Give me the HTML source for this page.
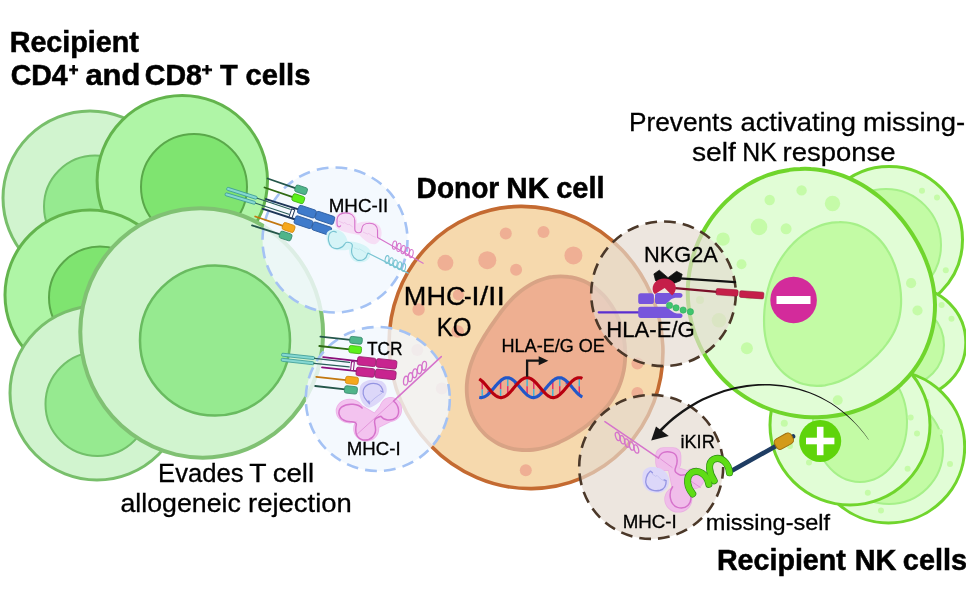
<!DOCTYPE html>
<html><head><meta charset="utf-8"><title>Donor NK cell</title>
<style>
html,body{margin:0;padding:0;background:#fff;}
svg{display:block;will-change:transform;font-family:"Liberation Sans",sans-serif;fill:#000}
</style></head><body>
<svg width="966" height="606" viewBox="0 0 966 606">
<rect width="966" height="606" fill="#fff"/>
<g><ellipse cx="90" cy="198" rx="87" ry="87" fill="#d1f4cf" stroke="#78bf6b" stroke-width="3" transform="rotate(0 90 198)"/><circle cx="95" cy="206.5" r="51" fill="#96ea90" stroke="#72c06a" stroke-width="2"/></g>
<g><ellipse cx="182.3" cy="180.6" rx="85.2" ry="85.2" fill="#aff5a6" stroke="#63b44d" stroke-width="3" transform="rotate(0 182.3 180.6)"/><circle cx="194" cy="187" r="53" fill="#7fe470" stroke="#5aa84a" stroke-width="2"/></g>
<g><ellipse cx="90" cy="295" rx="85" ry="85" fill="#aff5a6" stroke="#63b44d" stroke-width="3" transform="rotate(0 90 295)"/><circle cx="100" cy="297.5" r="51" fill="#7fe470" stroke="#5aa84a" stroke-width="2"/></g>
<g><ellipse cx="97" cy="393" rx="87" ry="87" fill="#d1f4cf" stroke="#78bf6b" stroke-width="3" transform="rotate(0 97 393)"/><circle cx="97.5" cy="404" r="52" fill="#96ea90" stroke="#72c06a" stroke-width="2"/></g>
<g><ellipse cx="201.7" cy="332.9" rx="124.8" ry="121.3" fill="#d1f4cf" stroke="#80c173" stroke-width="4" transform="rotate(80.8 201.7 332.9)"/><circle cx="215" cy="340.5" r="75" fill="#96ea90" stroke="#69bb60" stroke-width="2.5"/></g>
<g><ellipse cx="889.2" cy="239.7" rx="73.3" ry="73.3" transform="rotate(0 889.2 239.7)" fill="#e1fdd6" stroke="#70d52c" stroke-width="3"/>
<ellipse cx="886" cy="245" rx="55" ry="56" transform="rotate(0 886 245)" fill="#c3fba5" stroke="#a6f089" stroke-width="2"/>
<circle cx="922" cy="190.7" r="3" fill="#c5fba8"/>
<circle cx="937" cy="197.5" r="3" fill="#c5fba8"/>
<circle cx="945.8" cy="270.3" r="3" fill="#c5fba8"/>
</g>
<g><ellipse cx="911" cy="342.4" rx="54.8" ry="54.8" transform="rotate(0 911 342.4)" fill="#e1fdd6" stroke="#70d52c" stroke-width="3"/>
<ellipse cx="906" cy="345" rx="38" ry="40" transform="rotate(0 906 345)" fill="#c3fba5" stroke="#a6f089" stroke-width="2"/>
<circle cx="941.6" cy="305" r="3" fill="#c5fba8"/>
<circle cx="951.5" cy="318.8" r="3" fill="#c5fba8"/>
</g>
<g><ellipse cx="888.5" cy="446.8" rx="76.2" ry="76.2" transform="rotate(0 888.5 446.8)" fill="#e1fdd6" stroke="#70d52c" stroke-width="3"/>
<ellipse cx="889" cy="450" rx="54" ry="54" transform="rotate(0 889 450)" fill="#c3fba5" stroke="#a6f089" stroke-width="2"/>
<circle cx="881" cy="510.5" r="3" fill="#c5fba8"/>
<circle cx="950" cy="463.9" r="3" fill="#c5fba8"/>
<circle cx="926.6" cy="401.7" r="3" fill="#c5fba8"/>
<circle cx="940" cy="432" r="3" fill="#c5fba8"/>
</g>
<g><ellipse cx="850" cy="425" rx="80" ry="80" transform="rotate(0 850 425)" fill="#e1fdd6" stroke="#70d52c" stroke-width="3"/>
<ellipse cx="860" cy="422" rx="47" ry="60" transform="rotate(0 860 422)" fill="#c3fba5" stroke="#a6f089" stroke-width="2"/>
<circle cx="784.3" cy="423.3" r="3.5" fill="#c5fba8"/>
<circle cx="790" cy="446" r="3" fill="#c5fba8"/>
<circle cx="809" cy="462.4" r="3" fill="#c5fba8"/>
<circle cx="867.8" cy="492.7" r="3" fill="#c5fba8"/>
<circle cx="907.6" cy="468.8" r="3" fill="#c5fba8"/>
<circle cx="917" cy="433.5" r="3" fill="#c5fba8"/>
<circle cx="910.7" cy="417.6" r="3" fill="#c5fba8"/>
</g>
<path d="M934.3,294.0 C934.7,297.6 934.9,301.2 935.0,304.8 C935.0,308.5 934.9,312.1 934.5,315.8 C934.2,319.4 933.7,323.1 933.0,326.7 C932.3,330.3 931.4,333.9 930.3,337.4 C929.3,341.0 928.0,344.5 926.5,347.9 C925.1,351.3 923.5,354.6 921.7,357.9 C919.8,361.1 917.9,364.3 915.7,367.3 C913.6,370.4 911.3,373.3 908.9,376.1 C906.4,378.9 903.8,381.6 901.2,384.2 C898.5,386.7 895.6,389.1 892.7,391.4 C889.8,393.6 886.7,395.8 883.6,397.7 C880.5,399.7 877.3,401.5 874.1,403.2 C870.8,404.9 867.4,406.4 864.1,407.8 C860.7,409.2 857.2,410.4 853.8,411.5 C850.3,412.6 846.8,413.5 843.2,414.3 C839.7,415.0 836.1,415.7 832.5,416.1 C829.0,416.6 825.4,417.0 821.8,417.1 C818.2,417.3 814.6,417.4 811.0,417.3 C807.4,417.1 803.8,416.9 800.3,416.5 C796.7,416.1 793.2,415.6 789.7,414.9 C786.2,414.2 782.7,413.3 779.3,412.4 C775.9,411.4 772.5,410.3 769.1,409.0 C765.8,407.8 762.5,406.4 759.3,404.9 C756.1,403.3 752.9,401.7 749.9,399.9 C746.8,398.1 743.8,396.2 740.9,394.1 C738.0,392.1 735.1,389.9 732.4,387.7 C729.7,385.4 727.0,383.0 724.5,380.5 C722.0,378.0 719.6,375.3 717.3,372.6 C715.0,369.9 712.8,367.1 710.7,364.2 C708.7,361.3 706.7,358.3 704.9,355.2 C703.1,352.2 701.4,349.0 699.9,345.8 C698.4,342.6 697.0,339.3 695.7,336.0 C694.5,332.6 693.3,329.2 692.4,325.8 C691.4,322.3 690.6,318.9 689.9,315.3 C689.3,311.8 688.8,308.3 688.4,304.7 C688.0,301.2 687.8,297.6 687.8,294.0 C687.7,290.4 687.8,286.8 688.1,283.2 C688.4,279.7 688.8,276.1 689.3,272.5 C689.9,269.0 690.6,265.5 691.5,262.0 C692.3,258.5 693.4,255.0 694.5,251.6 C695.7,248.2 697.0,244.8 698.4,241.5 C699.9,238.2 701.5,234.9 703.2,231.8 C704.9,228.6 706.8,225.4 708.8,222.4 C710.8,219.4 712.9,216.4 715.2,213.6 C717.4,210.7 719.8,207.9 722.3,205.3 C724.8,202.6 727.4,200.1 730.2,197.7 C732.9,195.2 735.8,192.9 738.7,190.7 C741.7,188.6 744.7,186.5 747.9,184.6 C751.0,182.8 754.3,181.0 757.6,179.4 C760.9,177.9 764.3,176.4 767.8,175.2 C771.2,174.0 774.7,172.9 778.3,172.0 C781.9,171.1 785.5,170.4 789.1,169.9 C792.7,169.3 796.4,169.0 800.1,168.9 C803.7,168.7 807.4,168.7 811.0,169.0 C814.6,169.2 818.3,169.6 821.8,170.2 C825.4,170.8 829.0,171.5 832.4,172.5 C835.9,173.4 839.3,174.5 842.7,175.7 C846.0,177.0 849.3,178.4 852.5,179.9 C855.7,181.4 858.9,183.1 861.9,184.8 C864.9,186.6 867.9,188.5 870.7,190.5 C873.6,192.5 876.4,194.6 879.1,196.8 C881.7,199.0 884.3,201.3 886.8,203.6 C889.3,206.0 891.8,208.4 894.1,210.9 C896.4,213.4 898.7,216.0 900.9,218.6 C903.0,221.2 905.1,223.9 907.1,226.7 C909.1,229.5 911.0,232.3 912.9,235.2 C914.7,238.1 916.5,241.0 918.1,244.0 C919.8,247.1 921.3,250.2 922.8,253.3 C924.2,256.5 925.6,259.7 926.8,263.0 C928.1,266.2 929.2,269.6 930.2,273.0 C931.1,276.4 932.0,279.9 932.7,283.4 C933.4,286.9 933.9,290.4 934.3,294.0 Z" fill="#e1fdd6" stroke="#70d52c" stroke-width="4"/>
<path d="M901.0,305.0 C900.8,307.0 900.7,309.0 900.4,311.0 C900.1,313.0 899.8,314.9 899.4,316.9 C898.9,318.8 898.4,320.7 897.8,322.6 C897.2,324.5 896.5,326.4 895.8,328.2 C895.0,330.0 894.2,331.8 893.3,333.6 C892.4,335.3 891.4,337.0 890.3,338.7 C889.3,340.3 888.2,341.9 887.0,343.5 C885.9,345.1 884.6,346.6 883.4,348.1 C882.1,349.6 880.8,351.0 879.5,352.5 C878.1,353.9 876.8,355.3 875.3,356.7 C873.9,358.0 872.5,359.4 871.0,360.7 C869.5,362.0 868.0,363.3 866.4,364.6 C864.8,365.9 863.2,367.2 861.6,368.4 C859.9,369.7 858.2,370.9 856.4,372.1 C854.7,373.3 852.8,374.5 850.9,375.6 C849.0,376.7 847.1,377.8 845.0,378.8 C843.0,379.8 840.9,380.8 838.7,381.6 C836.5,382.4 834.3,383.2 832.0,383.8 C829.7,384.4 827.4,384.9 825.0,385.3 C822.6,385.6 820.2,385.8 817.7,385.8 C815.3,385.9 812.9,385.7 810.4,385.4 C808.0,385.1 805.6,384.6 803.3,384.0 C800.9,383.3 798.6,382.4 796.4,381.4 C794.1,380.4 792.0,379.2 789.9,377.9 C787.9,376.5 785.9,375.0 784.1,373.4 C782.3,371.8 780.6,370.0 779.0,368.1 C777.4,366.3 776.0,364.3 774.7,362.3 C773.4,360.3 772.3,358.1 771.2,356.0 C770.2,353.9 769.3,351.6 768.5,349.4 C767.7,347.2 767.1,345.0 766.6,342.8 C766.0,340.6 765.6,338.3 765.2,336.1 C764.9,333.9 764.6,331.8 764.4,329.6 C764.2,327.4 764.1,325.3 764.1,323.2 C764.0,321.1 764.1,319.0 764.1,317.0 C764.2,314.9 764.3,312.9 764.4,310.9 C764.6,308.9 764.8,306.9 765.0,305.0 C765.3,303.1 765.6,301.1 765.9,299.2 C766.2,297.3 766.6,295.4 767.0,293.5 C767.4,291.7 767.8,289.8 768.3,287.9 C768.8,286.1 769.3,284.2 769.9,282.4 C770.5,280.6 771.2,278.8 771.8,277.0 C772.5,275.1 773.3,273.3 774.1,271.6 C774.9,269.8 775.7,268.0 776.7,266.3 C777.6,264.5 778.6,262.8 779.6,261.0 C780.6,259.3 781.7,257.6 782.9,255.9 C784.1,254.2 785.3,252.5 786.6,250.9 C787.9,249.2 789.3,247.6 790.7,246.0 C792.2,244.5 793.7,242.9 795.3,241.4 C796.9,239.9 798.5,238.4 800.3,237.0 C802.0,235.6 803.9,234.2 805.8,233.0 C807.7,231.7 809.7,230.5 811.7,229.4 C813.8,228.3 815.9,227.3 818.1,226.4 C820.3,225.5 822.6,224.7 824.9,224.1 C827.2,223.5 829.6,223.0 832.0,222.6 C834.4,222.3 836.8,222.1 839.3,222.1 C841.7,222.0 844.1,222.2 846.6,222.5 C849.0,222.8 851.4,223.3 853.7,223.9 C856.1,224.5 858.4,225.3 860.6,226.3 C862.9,227.3 865.1,228.4 867.1,229.6 C869.2,230.9 871.2,232.3 873.1,233.8 C875.0,235.3 876.8,236.9 878.5,238.6 C880.2,240.3 881.7,242.1 883.2,244.0 C884.6,245.9 886.0,247.8 887.2,249.8 C888.5,251.7 889.6,253.8 890.6,255.8 C891.7,257.8 892.6,259.9 893.4,262.0 C894.3,264.0 895.1,266.1 895.7,268.2 C896.4,270.3 897.0,272.3 897.6,274.4 C898.1,276.5 898.6,278.5 899.0,280.6 C899.4,282.7 899.8,284.7 900.1,286.8 C900.4,288.8 900.6,290.8 900.8,292.9 C900.9,294.9 901.0,296.9 901.1,299.0 C901.1,301.0 901.1,303.0 901.0,305.0 Z" fill="#c3fba5" stroke="#a6f089" stroke-width="2.2"/>
<circle cx="801.6" cy="190.4" r="5.2" fill="#c5fba8"/>
<circle cx="769.7" cy="200" r="5.2" fill="#c5fba8"/>
<circle cx="832.5" cy="203.5" r="7.7" fill="#c5fba8"/>
<circle cx="759" cy="226.9" r="8.3" fill="#c5fba8"/>
<circle cx="786.1" cy="228.8" r="5.5" fill="#c5fba8"/>
<circle cx="723.1" cy="239.1" r="6.7" fill="#c5fba8"/>
<circle cx="741.5" cy="264.3" r="5" fill="#c5fba8"/>
<circle cx="911.1" cy="283.2" r="5.1" fill="#c5fba8"/>
<circle cx="917.5" cy="310.5" r="5.1" fill="#c5fba8"/>
<circle cx="748.9" cy="295.5" r="4" fill="#c5fba8"/>
<circle cx="719" cy="320.3" r="7.3" fill="#c5fba8"/>
<circle cx="746.9" cy="348.2" r="6" fill="#c5fba8"/>
<circle cx="837.7" cy="400.2" r="5" fill="#c5fba8"/>
<circle cx="700" cy="300" r="4" fill="#c5fba8"/>
<g>
<ellipse cx="526" cy="347.5" rx="142" ry="136" transform="rotate(66.9 526 347.5)" fill="#f6d9ad" stroke="#c46a31" stroke-width="3.6"/>
<circle cx="505.8" cy="233.5" r="6" fill="#efaf94"/>
<circle cx="543.5" cy="231.9" r="6" fill="#efaf94"/>
<circle cx="573.4" cy="255.4" r="9" fill="#efaf94"/>
<circle cx="487.3" cy="260.2" r="9" fill="#efaf94"/>
<circle cx="445.4" cy="262.8" r="8" fill="#efaf94"/>
<circle cx="516.1" cy="269.7" r="6" fill="#efaf94"/>
<circle cx="418.6" cy="309.5" r="6.2" fill="#efaf94"/>
<circle cx="458.4" cy="294.9" r="5.6" fill="#efaf94"/>
<circle cx="457.7" cy="331.5" r="6.2" fill="#efaf94"/>
<circle cx="417.3" cy="350" r="6" fill="#efaf94"/>
<circle cx="441.8" cy="388.5" r="6" fill="#efaf94"/>
<circle cx="637.4" cy="363.4" r="6" fill="#efaf94"/>
<circle cx="637.4" cy="393" r="6" fill="#efaf94"/>
<circle cx="525.8" cy="470.2" r="6" fill="#efaf94"/>
<path d="M624.7,364.0 C624.5,366.3 624.1,368.6 623.7,370.9 C623.2,373.1 622.7,375.4 622.1,377.6 C621.5,379.8 620.8,382.0 620.0,384.1 C619.1,386.2 618.3,388.3 617.3,390.3 C616.3,392.3 615.2,394.3 614.1,396.2 C613.0,398.1 611.8,400.0 610.5,401.8 C609.2,403.6 607.9,405.4 606.5,407.0 C605.1,408.7 603.6,410.4 602.1,411.9 C600.6,413.5 599.1,415.0 597.5,416.5 C595.9,418.0 594.3,419.4 592.7,420.8 C591.0,422.2 589.3,423.6 587.6,424.9 C585.9,426.2 584.2,427.5 582.4,428.8 C580.6,430.0 578.8,431.3 576.9,432.5 C575.1,433.7 573.2,434.9 571.2,436.0 C569.3,437.2 567.3,438.3 565.2,439.4 C563.1,440.4 561.0,441.5 558.8,442.5 C556.7,443.4 554.4,444.4 552.1,445.2 C549.8,446.0 547.4,446.8 545.0,447.5 C542.6,448.1 540.1,448.7 537.6,449.1 C535.0,449.5 532.4,449.9 529.8,450.0 C527.2,450.2 524.6,450.2 522.0,450.0 C519.3,449.9 516.7,449.6 514.0,449.1 C511.4,448.6 508.8,447.9 506.3,447.0 C503.7,446.2 501.2,445.2 498.8,444.0 C496.4,442.8 494.1,441.4 491.9,439.8 C489.7,438.3 487.6,436.6 485.6,434.8 C483.7,432.9 481.8,431.0 480.1,428.9 C478.5,426.8 476.9,424.6 475.5,422.3 C474.2,420.0 473.0,417.6 471.9,415.2 C470.9,412.7 470.0,410.2 469.3,407.7 C468.5,405.2 468.0,402.6 467.6,400.1 C467.2,397.6 466.9,395.0 466.8,392.5 C466.7,389.9 466.7,387.4 466.8,384.9 C467.0,382.5 467.2,380.0 467.6,377.6 C468.0,375.3 468.5,372.9 469.0,370.6 C469.5,368.4 470.2,366.2 470.9,364.0 C471.6,361.8 472.4,359.8 473.2,357.7 C474.0,355.7 474.9,353.7 475.8,351.8 C476.7,349.9 477.6,348.0 478.6,346.2 C479.6,344.4 480.6,342.6 481.6,340.9 C482.6,339.2 483.6,337.5 484.6,335.8 C485.6,334.2 486.7,332.6 487.7,330.9 C488.8,329.3 489.8,327.7 490.9,326.1 C492.0,324.5 493.1,322.9 494.2,321.4 C495.3,319.8 496.4,318.2 497.6,316.6 C498.7,315.0 499.9,313.4 501.1,311.7 C502.4,310.1 503.7,308.5 505.0,306.9 C506.3,305.2 507.7,303.6 509.2,302.0 C510.7,300.4 512.2,298.8 513.8,297.2 C515.5,295.6 517.2,294.0 519.0,292.5 C520.8,291.0 522.7,289.6 524.7,288.2 C526.7,286.8 528.8,285.5 530.9,284.3 C533.1,283.1 535.4,282.0 537.7,281.0 C540.1,280.0 542.5,279.2 545.0,278.5 C547.5,277.8 550.0,277.2 552.6,276.9 C555.2,276.5 557.8,276.3 560.5,276.3 C563.1,276.3 565.8,276.4 568.4,276.8 C571.0,277.1 573.6,277.7 576.2,278.4 C578.7,279.1 581.2,280.0 583.7,281.1 C586.1,282.2 588.5,283.4 590.7,284.8 C593.0,286.2 595.2,287.7 597.2,289.4 C599.3,291.1 601.2,292.9 603.1,294.8 C604.9,296.7 606.6,298.7 608.2,300.8 C609.8,302.9 611.3,305.0 612.6,307.3 C614.0,309.5 615.2,311.8 616.3,314.1 C617.4,316.4 618.4,318.7 619.3,321.1 C620.2,323.5 621.0,325.9 621.6,328.3 C622.3,330.7 622.9,333.1 623.4,335.5 C623.9,337.9 624.2,340.3 624.5,342.7 C624.8,345.1 625.0,347.5 625.1,349.9 C625.3,352.3 625.3,354.6 625.2,357.0 C625.1,359.3 625.0,361.7 624.7,364.0 Z" fill="#eeaf91" stroke="#d8a385" stroke-width="3.8"/>
</g>
<circle cx="335" cy="240" r="72.5" fill="#f1f8fe" fill-opacity="0.82" stroke="#a4c2f4" stroke-width="2.6" stroke-dasharray="11.8 7.18"/>
<circle cx="377.8" cy="399" r="72" fill="#f1f8fe" fill-opacity="0.82" stroke="#a4c2f4" stroke-width="2.6" stroke-dasharray="11.8 7.18"/>
<circle cx="663.5" cy="293.8" r="72.3" fill="#e5dad0" fill-opacity="0.68" stroke="#4b3829" stroke-width="2.6" stroke-dasharray="11.8 7.13"/>
<circle cx="651.2" cy="466.9" r="72" fill="#e5dad0" fill-opacity="0.68" stroke="#4b3829" stroke-width="2.6" stroke-dasharray="11.8 7.05"/>
<line x1="267.6" y1="178.5" x2="296" y2="188.4" stroke="#24564a" stroke-width="1.8" stroke-linecap="round"/>
<rect x="294.95" y="186.30" width="12.3" height="7" rx="2" ry="2" transform="rotate(18.6 301.1 189.8)" fill="#4fb58a" stroke="#35866a" stroke-width="0.8"/>
<line x1="264.5" y1="187.5" x2="292.8" y2="197.2" stroke="#2f6a14" stroke-width="1.8" stroke-linecap="round"/>
<rect x="292.15" y="195.00" width="12.3" height="7.4" rx="2" ry="2" transform="rotate(18.6 298.3 198.7)" fill="#5cf01a" stroke="#3fae12" stroke-width="0.8"/>
<rect x="226.06" y="191.80" width="31.689114850370927" height="3.0" rx="1.2" ry="1.2" transform="rotate(17.63446107665899 241.9 193.3)" fill="#86d8d2" stroke="#3d9c97" stroke-width="0.8"/>
<rect x="224.53" y="197.05" width="31.541242841714418" height="3.0" rx="1.2" ry="1.2" transform="rotate(16.76884125960345 240.3 198.55)" fill="#86d8d2" stroke="#3d9c97" stroke-width="0.8"/>
<line x1="257.3" y1="198.3" x2="290.2" y2="209.3" stroke="#2a5f5a" stroke-width="1.2" stroke-linecap="round"/>
<line x1="255.8" y1="203.3" x2="288.9" y2="214.2" stroke="#2a5f5a" stroke-width="1.2" stroke-linecap="round"/>
<line x1="266" y1="199.1" x2="298.5" y2="209.4" stroke="#1c3557" stroke-width="2.0" stroke-linecap="round"/>
<line x1="262.9" y1="208.9" x2="294.7" y2="219.2" stroke="#1c3557" stroke-width="2.0" stroke-linecap="round"/>
<rect x="290.30" y="209.10" width="3.2" height="8.6" rx="0.3" ry="0.3" transform="rotate(18.6 291.9 213.4)" fill="#fff" stroke="#1c3557" stroke-width="1"/>
<rect x="297.75" y="207.50" width="18.3" height="8.4" rx="2" ry="2" transform="rotate(18.6 306.9 211.7)" fill="#3f7bcb" stroke="#2a5a9c" stroke-width="0.8"/>
<rect x="315.35" y="213.70" width="19.3" height="8.4" rx="2" ry="2" transform="rotate(18.6 325.0 217.9)" fill="#3f7bcb" stroke="#2a5a9c" stroke-width="0.8"/>
<rect x="294.35" y="218.00" width="18.3" height="8.4" rx="2" ry="2" transform="rotate(18.6 303.5 222.2)" fill="#3f7bcb" stroke="#2a5a9c" stroke-width="0.8"/>
<rect x="312.05" y="224.30" width="19.3" height="8.4" rx="2" ry="2" transform="rotate(18.6 321.7 228.5)" fill="#3f7bcb" stroke="#2a5a9c" stroke-width="0.8"/>
<line x1="255.2" y1="216.5" x2="283" y2="225.9" stroke="#c2770f" stroke-width="1.8" stroke-linecap="round"/>
<rect x="282.45" y="223.80" width="12.3" height="7.4" rx="2" ry="2" transform="rotate(18.6 288.6 227.5)" fill="#f6a81c" stroke="#cf8710" stroke-width="0.8"/>
<line x1="252" y1="225.4" x2="280.2" y2="234.4" stroke="#24564a" stroke-width="1.8" stroke-linecap="round"/>
<rect x="279.45" y="232.40" width="12.3" height="7.2" rx="2" ry="2" transform="rotate(18.6 285.6 236)" fill="#4fb58a" stroke="#35866a" stroke-width="0.8"/>
<line x1="320.4" y1="336.7" x2="350.5" y2="339.9" stroke="#24564a" stroke-width="1.8" stroke-linecap="round"/>
<rect x="349.75" y="336.85" width="12.5" height="6.9" rx="2" ry="2" transform="rotate(6.2 356 340.3)" fill="#4fb58a" stroke="#35866a" stroke-width="0.8"/>
<line x1="319.3" y1="346" x2="349.5" y2="349.3" stroke="#2f6a14" stroke-width="1.8" stroke-linecap="round"/>
<rect x="348.95" y="345.95" width="12.5" height="7.3" rx="2" ry="2" transform="rotate(6.2 355.2 349.6)" fill="#5cf01a" stroke="#3fae12" stroke-width="0.8"/>
<rect x="281.50" y="354.90" width="33.195782864695325" height="3.0" rx="1.2" ry="1.2" transform="rotate(6.225829064425709 298.1 356.4)" fill="#86d8d2" stroke="#3d9c97" stroke-width="0.8"/>
<rect x="281.10" y="360.00" width="32.89756829919195" height="3.0" rx="1.2" ry="1.2" transform="rotate(6.282492088161424 297.54999999999995 361.5)" fill="#86d8d2" stroke="#3d9c97" stroke-width="0.8"/>
<line x1="314.6" y1="358.4" x2="349.6" y2="362.4" stroke="#2a5f5a" stroke-width="1.2" stroke-linecap="round"/>
<line x1="313.9" y1="363.3" x2="349.2" y2="366.9" stroke="#2a5f5a" stroke-width="1.2" stroke-linecap="round"/>
<line x1="323.2" y1="357.1" x2="358" y2="361.1" stroke="#8a0f7a" stroke-width="1.8" stroke-linecap="round"/>
<line x1="322" y1="367.4" x2="357" y2="371.1" stroke="#8a0f7a" stroke-width="1.8" stroke-linecap="round"/>
<rect x="351.10" y="361.50" width="2.8" height="8.8" rx="0.3" ry="0.3" transform="rotate(6.2 352.5 365.9)" fill="#fff" stroke="#8a0f7a" stroke-width="1"/>
<rect x="357.35" y="357.40" width="18.5" height="8.4" rx="2" ry="2" transform="rotate(6.2 366.6 361.6)" fill="#c8248f" stroke="#961a6c" stroke-width="0.8"/>
<rect x="376.25" y="359.50" width="20.5" height="8.6" rx="2" ry="2" transform="rotate(6.2 386.5 363.8)" fill="#c8248f" stroke="#961a6c" stroke-width="0.8"/>
<rect x="356.15" y="367.90" width="18.5" height="8.6" rx="2" ry="2" transform="rotate(6.2 365.4 372.2)" fill="#c8248f" stroke="#961a6c" stroke-width="0.8"/>
<rect x="375.20" y="370.00" width="20.8" height="8.8" rx="2" ry="2" transform="rotate(6.2 385.6 374.4)" fill="#c8248f" stroke="#961a6c" stroke-width="0.8"/>
<line x1="316.3" y1="376.8" x2="346" y2="380.1" stroke="#c2770f" stroke-width="1.8" stroke-linecap="round"/>
<rect x="345.50" y="376.75" width="12.8" height="7.3" rx="2" ry="2" transform="rotate(6.2 351.9 380.4)" fill="#f6a81c" stroke="#cf8710" stroke-width="0.8"/>
<line x1="315.2" y1="386" x2="345.2" y2="389.4" stroke="#24564a" stroke-width="1.8" stroke-linecap="round"/>
<rect x="344.50" y="386.20" width="12.8" height="7.4" rx="2" ry="2" transform="rotate(6.2 350.9 389.9)" fill="#4fb58a" stroke="#35866a" stroke-width="0.8"/>
<g transform="translate(325 205) scale(0.11547)">
<path d="M85,150 C80,80 140,45 200,55 C255,65 280,110 278,160 C320,140 420,130 470,180 C505,225 495,310 440,338 C395,350 330,300 300,262 C250,248 180,240 130,218 C95,205 85,180 85,150 Z" fill="#f6def5"/>
<path d="M12,265 C10,225 55,205 105,215 C150,225 185,260 195,315 C255,315 360,340 392,395 C408,455 360,500 295,498 C240,495 205,445 210,385 C165,395 95,400 55,372 C22,350 12,305 12,265 Z" fill="#d5f4f7"/>
<path d="M135,180 C120,198 104,185 104,160 L104,125 C106,88 140,68 178,68 C222,68 256,92 258,135 L258,205 C258,228 268,238 290,240 C310,242 318,230 318,210 C320,175 345,158 385,158 C425,158 453,180 455,222 L455,282 L850,505" fill="none" stroke="#d673cc" stroke-width="10" stroke-linecap="round" stroke-linejoin="round"/>
<path d="M120,140 L160,158 L168,152 L200,172 L208,166 L240,190 M330,235 L370,252 L378,246 L410,268 L440,280" fill="none" stroke="#d673cc" stroke-width="3" stroke-opacity="0.7"/>
<ellipse cx="602" cy="347" rx="17" ry="36" transform="rotate(10 602 347)" fill="none" stroke="#d673cc" stroke-width="9"/>
<ellipse cx="640" cy="367" rx="17" ry="36" transform="rotate(10 640 367)" fill="none" stroke="#d673cc" stroke-width="9"/>
<ellipse cx="677" cy="386" rx="17" ry="36" transform="rotate(10 677 386)" fill="none" stroke="#d673cc" stroke-width="9"/>
<ellipse cx="713" cy="404" rx="17" ry="36" transform="rotate(10 713 404)" fill="none" stroke="#d673cc" stroke-width="9"/>
<ellipse cx="746" cy="421" rx="17" ry="36" transform="rotate(10 746 421)" fill="none" stroke="#d673cc" stroke-width="9"/>
<path d="M98,236 C80,222 50,228 38,250 C22,285 28,340 60,365 C95,390 150,378 172,335 C178,322 190,320 210,325 C235,330 240,345 235,365 C222,405 235,455 275,475 C320,490 360,465 366,428 L372,416 L720,590" fill="none" stroke="#78c4d2" stroke-width="10" stroke-linecap="round" stroke-linejoin="round"/>
<path d="M250,370 L290,385 L298,380 L330,398 L360,420" fill="none" stroke="#78c4d2" stroke-width="3" stroke-opacity="0.7"/>
<ellipse cx="537" cy="472" rx="16" ry="34" transform="rotate(10 537 472)" fill="none" stroke="#78c4d2" stroke-width="9"/>
<ellipse cx="573" cy="491" rx="16" ry="34" transform="rotate(10 573 491)" fill="none" stroke="#78c4d2" stroke-width="9"/>
<ellipse cx="609" cy="509" rx="16" ry="34" transform="rotate(10 609 509)" fill="none" stroke="#78c4d2" stroke-width="9"/>
<ellipse cx="646" cy="526" rx="16" ry="34" transform="rotate(10 646 526)" fill="none" stroke="#78c4d2" stroke-width="9"/>
<ellipse cx="681" cy="541" rx="16" ry="34" transform="rotate(10 681 541)" fill="none" stroke="#78c4d2" stroke-width="9"/>
</g>
<g transform="translate(325 350) scale(0.16498)">
<g fill="#edb2e8" stroke="#edb2e8" stroke-width="10" stroke-linejoin="round"><ellipse cx="150" cy="370" rx="80" ry="70"/><ellipse cx="250" cy="478" rx="74" ry="72"/><ellipse cx="398" cy="360" rx="64" ry="70"/><path d="M190,320 L300,385 L370,300 L440,410 L320,470 L200,440 Z"/></g><g fill="#f3c3ef"><ellipse cx="150" cy="370" rx="80" ry="70"/><ellipse cx="250" cy="478" rx="74" ry="72"/><ellipse cx="398" cy="360" rx="64" ry="70"/><path d="M190,320 L300,385 L370,300 L440,410 L320,470 L200,440 Z"/></g>
<path d="M225,352 C205,328 140,316 100,346 C70,372 85,420 130,432 C160,440 185,425 190,450 C180,500 190,535 230,545 C275,552 315,520 305,465 C298,430 290,415 340,402 C355,425 400,435 432,410 C455,385 450,335 415,310 L705,40" fill="none" stroke="#d673cc" stroke-width="9" stroke-linecap="round" stroke-linejoin="round"/>
<path d="M195,510 L415,310" stroke="#d673cc" stroke-width="3.5" fill="none"/>
<ellipse cx="489.7" cy="186" rx="13.5" ry="27" transform="rotate(8 489.7 186)" fill="none" stroke="#d673cc" stroke-width="8"/>
<ellipse cx="517" cy="164.8" rx="13.5" ry="27" transform="rotate(8 517 164.8)" fill="none" stroke="#d673cc" stroke-width="8"/>
<ellipse cx="544.2" cy="141.2" rx="13.5" ry="27" transform="rotate(8 544.2 141.2)" fill="none" stroke="#d673cc" stroke-width="8"/>
<ellipse cx="573.9" cy="117" rx="13.5" ry="27" transform="rotate(8 573.9 117)" fill="none" stroke="#d673cc" stroke-width="8"/>
<ellipse cx="601.2" cy="95.7" rx="13.5" ry="27" transform="rotate(8 601.2 95.7)" fill="none" stroke="#d673cc" stroke-width="8"/>
<path d="M215,215 C235,180 300,170 345,190 C380,210 385,260 355,290 C330,320 290,350 265,350 C225,340 195,270 215,215 Z" fill="#dcd7f9"/>
<path d="M270,326 C245,300 225,278 232,245 C240,210 280,195 315,205 C340,213 350,235 352,256 M270,326 L266,308 M352,256 L338,248" fill="none" stroke="#9494e2" stroke-width="7.5" stroke-linecap="round" stroke-linejoin="round"/>
<path d="M272,320 C290,300 315,280 345,262" fill="none" stroke="#9494e2" stroke-width="3"/>
</g>
<g transform="translate(595 415) scale(0.16502)">
<g fill="#eab0e2" stroke="#eab0e2" stroke-width="10" stroke-linejoin="round"><rect x="370" y="200" width="148" height="135" rx="45"/><ellipse cx="600" cy="385" rx="58" ry="60"/><ellipse cx="505" cy="510" rx="80" ry="76"/><path d="M440,300 L560,340 L560,440 L470,440 Z"/></g><g fill="#f0bdea"><rect x="370" y="200" width="148" height="135" rx="45"/><ellipse cx="600" cy="385" rx="58" ry="60"/><ellipse cx="505" cy="510" rx="80" ry="76"/><path d="M440,300 L560,340 L560,440 L470,440 Z"/></g>
<path d="M60,40 L385,262 C395,225 430,215 470,228 C500,240 500,275 495,300 C485,330 470,345 520,365 L560,360 M470,435 C445,470 450,540 500,560 C550,575 590,540 580,480 C575,455 565,440 560,430" fill="none" stroke="#d673cc" stroke-width="9" stroke-linecap="round" stroke-linejoin="round"/>
<path d="M395,265 L470,320 M580,400 L640,440" stroke="#d673cc" stroke-width="3.5" fill="none"/>
<ellipse cx="138" cy="130" rx="13" ry="26" transform="rotate(-18 138 130)" fill="none" stroke="#d673cc" stroke-width="8"/>
<ellipse cx="166" cy="150" rx="13" ry="26" transform="rotate(-18 166 150)" fill="none" stroke="#d673cc" stroke-width="8"/>
<ellipse cx="194" cy="170" rx="13" ry="26" transform="rotate(-18 194 170)" fill="none" stroke="#d673cc" stroke-width="8"/>
<ellipse cx="222" cy="188" rx="13" ry="26" transform="rotate(-18 222 188)" fill="none" stroke="#d673cc" stroke-width="8"/>
<ellipse cx="250" cy="206" rx="13" ry="26" transform="rotate(-18 250 206)" fill="none" stroke="#d673cc" stroke-width="8"/>
<path d="M290,350 C300,315 350,305 400,325 C440,345 460,385 445,425 C430,470 380,480 335,465 C295,450 280,400 290,350 Z" fill="#dcd7f9"/>
<path d="M336,340 C312,360 300,400 312,425 C325,455 365,464 395,456 C420,448 432,425 431,398 M336,340 L348,350 M431,398 L419,393" fill="none" stroke="#9494e2" stroke-width="8" stroke-linecap="round" stroke-linejoin="round"/>
<path d="M345,356 L368,372 L376,366 L398,388 L424,402" fill="none" stroke="#9494e2" stroke-width="3" stroke-opacity="0.6"/>
<line x1="815" y1="345" x2="1200" y2="130" stroke="#1f3d63" stroke-width="28" stroke-linecap="round"/>
<path d="M592,478 C560,440 545,380 585,350 C625,325 680,360 690,420" fill="none" stroke="#2c8a18" stroke-width="43" stroke-linecap="round"/>
<path d="M722,398 C690,350 680,290 720,268 C765,248 810,290 815,350" fill="none" stroke="#2c8a18" stroke-width="43" stroke-linecap="round"/>
<path d="M592,478 C560,440 545,380 585,350 C625,325 680,360 690,420" fill="none" stroke="#5fdc15" stroke-width="35" stroke-linecap="round"/>
<path d="M722,398 C690,350 680,290 720,268 C765,248 810,290 815,350" fill="none" stroke="#5fdc15" stroke-width="35" stroke-linecap="round"/>
</g>
<rect x="774.40" y="435.45" width="19" height="11.5" rx="4" ry="4" transform="rotate(-29 783.9 441.2)" fill="#d39a1b" stroke="#9c6f10" stroke-width="1"/>
<polygon points="868.7,439.5 864.6,433.8 860.3,428.5 855.8,423.4 851.2,418.7 846.4,414.3 841.5,410.3 836.5,406.5 831.4,403.0 826.1,399.9 820.8,397.0 815.4,394.4 809.9,392.2 804.3,390.2 798.7,388.5 793.0,387.0 787.3,385.9 781.5,385.0 775.7,384.4 769.9,384.0 764.1,383.9 758.3,384.1 752.5,384.5 746.7,385.1 741.0,386.0 735.2,387.1 729.6,388.5 723.9,390.1 718.4,391.9 712.9,393.9 707.5,396.2 702.1,398.6 696.9,401.3 691.8,404.2 686.8,407.2 681.9,410.5 677.1,413.9 672.5,417.6 668.0,421.4 663.7,425.4 659.5,429.6 661.5,431.4 665.5,427.3 669.7,423.3 674.1,419.5 678.6,415.9 683.3,412.5 688.1,409.2 693.0,406.2 698.0,403.3 703.1,400.6 708.4,398.2 713.7,395.9 719.1,393.9 724.5,392.0 730.1,390.4 735.7,389.0 741.3,387.9 747.0,387.0 752.7,386.3 758.4,385.8 764.1,385.6 769.9,385.6 775.6,385.9 781.3,386.5 787.0,387.3 792.7,388.4 798.4,389.8 803.9,391.4 809.5,393.3 814.9,395.5 820.3,398.0 825.6,400.8 830.9,403.8 836.0,407.2 841.0,410.9 845.9,414.9 850.7,419.2 855.4,423.8 859.9,428.8 864.3,434.1 868.5,439.7" fill="#151515"/>
<polygon points="651.2,440.6 656,426.6 668.8,436" fill="#151515"/>
<g transform="translate(595 262) scale(0.18633)">
<line x1="20" y1="270" x2="240" y2="270" stroke="#5a2ed0" stroke-width="12" stroke-linecap="round"/>
<rect x="232" y="168" width="84" height="58" rx="14" fill="#7755dc"/>
<path d="M336,166 L455,166 C475,166 475,192 455,192 L430,192 C405,196 395,215 380,226 L336,226 C326,226 322,220 322,212 L322,180 C322,172 326,166 336,166 Z" fill="#7755dc"/>
<path d="M246,240 L385,240 C400,250 410,270 440,276 L458,276 C474,276 474,300 458,300 L246,300 C236,300 232,294 232,286 L232,254 C232,246 236,240 246,240 Z" fill="#7755dc"/>
<circle cx="400" cy="233" r="17" fill="#3fc56e" stroke="#2fa85a" stroke-width="3"/>
<circle cx="435" cy="246" r="17" fill="#3fc56e" stroke="#2fa85a" stroke-width="3"/>
<circle cx="473" cy="258" r="17" fill="#3fc56e" stroke="#2fa85a" stroke-width="3"/>
<circle cx="512" cy="267" r="17" fill="#3fc56e" stroke="#2fa85a" stroke-width="3"/>
<polygon points="316,64 345,44 392,84 438,50 468,66 458,100 425,114 350,114 325,100" fill="#111" stroke="#111" stroke-width="4" stroke-linejoin="round"/>
<line x1="455" y1="88" x2="752" y2="108" stroke="#111" stroke-width="12" stroke-linecap="round"/>
<line x1="430" y1="140" x2="655" y2="160" stroke="#7a0f28" stroke-width="11.5"/>
<path d="M312,160 C300,120 330,88 372,88 C415,88 442,120 432,152 C428,166 420,174 414,180 L374,140 L322,172 C316,168 314,164 312,160 Z" fill="#c51f49"/>
<rect x="650" y="146" width="118" height="34" rx="8" transform="rotate(4 709 163)" fill="#c51f49" stroke="#971536" stroke-width="3"/>
<rect x="776" y="158" width="130" height="36" rx="8" transform="rotate(4 841 176)" fill="#c51f49" stroke="#971536" stroke-width="3"/>
</g>
<g transform="translate(465 330) scale(0.16563)">
<line x1="104" y1="309.7" x2="104" y2="358.6" stroke="#e0306c" stroke-width="9"/>
<line x1="104" y1="358.6" x2="104" y2="407.5" stroke="#45b5d5" stroke-width="9"/>
<line x1="140" y1="349.5" x2="140" y2="368.6" stroke="#45b5d5" stroke-width="9"/>
<line x1="140" y1="368.6" x2="140" y2="387.7" stroke="#e0306c" stroke-width="9"/>
<line x1="215" y1="306.1" x2="215" y2="357.0" stroke="#e0306c" stroke-width="9"/>
<line x1="215" y1="357.0" x2="215" y2="407.9" stroke="#45b5d5" stroke-width="9"/>
<line x1="258" y1="288.1" x2="258" y2="338.8" stroke="#45b5d5" stroke-width="9"/>
<line x1="258" y1="338.8" x2="258" y2="389.5" stroke="#e0306c" stroke-width="9"/>
<line x1="300" y1="310.6" x2="300" y2="327.1" stroke="#e0306c" stroke-width="9"/>
<line x1="300" y1="327.1" x2="300" y2="343.5" stroke="#45b5d5" stroke-width="9"/>
<line x1="375" y1="288.0" x2="375" y2="340.0" stroke="#45b5d5" stroke-width="9"/>
<line x1="375" y1="340.0" x2="375" y2="392.0" stroke="#e0306c" stroke-width="9"/>
<line x1="415" y1="306.1" x2="415" y2="357.0" stroke="#e0306c" stroke-width="9"/>
<line x1="415" y1="357.0" x2="415" y2="407.9" stroke="#45b5d5" stroke-width="9"/>
<line x1="455" y1="349.5" x2="455" y2="368.6" stroke="#45b5d5" stroke-width="9"/>
<line x1="455" y1="368.6" x2="455" y2="387.7" stroke="#e0306c" stroke-width="9"/>
<line x1="530" y1="306.1" x2="530" y2="357.0" stroke="#e0306c" stroke-width="9"/>
<line x1="530" y1="357.0" x2="530" y2="407.9" stroke="#45b5d5" stroke-width="9"/>
<line x1="572" y1="288.0" x2="572" y2="339.2" stroke="#45b5d5" stroke-width="9"/>
<line x1="572" y1="339.2" x2="572" y2="390.3" stroke="#e0306c" stroke-width="9"/>
<line x1="612" y1="307.9" x2="612" y2="327.5" stroke="#e0306c" stroke-width="9"/>
<line x1="612" y1="327.5" x2="612" y2="347.1" stroke="#45b5d5" stroke-width="9"/>
<line x1="690" y1="288.0" x2="690" y2="340.0" stroke="#45b5d5" stroke-width="9"/>
<line x1="690" y1="340.0" x2="690" y2="392.0" stroke="#e0306c" stroke-width="9"/>
<path d="M86.0,406.4 L90.5,407.4 L94.9,407.9 L99.3,408.0 L103.8,407.5 L108.2,406.6 L112.7,405.3 L117.2,403.4 L121.6,401.2 L126.0,398.5 L130.5,395.5 L134.9,392.0 L139.4,388.2 L143.8,384.1 L148.3,379.7 L152.8,375.1 L157.2,370.3 L161.7,365.2 L166.1,360.1 L170.6,354.8 L175.0,349.5 L179.4,344.2 L183.9,338.9 L188.3,333.7 L192.8,328.6 L197.2,323.6 L201.7,318.8 L206.2,314.3 L210.6,310.0 L215.1,306.1 L219.5,302.4 L223.9,299.1 L228.4,296.2 L232.8,293.8 L237.3,291.7 L241.8,290.1 L246.2,288.9 L250.7,288.2 L255.1,288.0 L259.6,288.2 L264.0,289.0 L268.4,290.1 L272.9,291.8 L277.4,293.9 L281.8,296.4 L286.2,299.3 L290.7,302.6 L295.1,306.2 L299.6,310.2 L304.1,314.5 L308.5,319.0 L312.9,323.8 L317.4,328.8 L321.9,333.9 L326.3,339.1 L330.8,344.4 L335.2,349.7 L339.6,355.0 L344.1,360.3 L348.6,365.5 L353.0,370.5 L357.4,375.3 L361.9,379.9 L366.4,384.3 L370.8,388.4 L375.2,392.2 L379.7,395.6 L384.1,398.7 L388.6,401.3 L393.1,403.5 L397.5,405.3 L401.9,406.7 L406.4,407.6 L410.9,408.0 L415.3,407.9 L419.8,407.4 L424.2,406.4 L428.6,404.9 L433.1,403.0 L437.6,400.7 L442.0,397.9 L446.4,394.8 L450.9,391.2 L455.4,387.4 L459.8,383.2 L464.2,378.8 L468.7,374.1 L473.1,369.2 L477.6,364.1 L482.1,358.9 L486.5,353.7 L490.9,348.4 L495.4,343.0 L499.9,337.8 L504.3,332.6 L508.8,327.5 L513.2,322.6 L517.6,317.8 L522.1,313.4 L526.5,309.2 L531.0,305.3 L535.5,301.7 L539.9,298.5 L544.4,295.7 L548.8,293.3 L553.2,291.3 L557.7,289.8 L562.1,288.7 L566.6,288.1 L571.0,288.0 L575.5,288.4 L580.0,289.2 L584.4,290.5 L588.9,292.2 L593.3,294.4 L597.8,297.0 L602.2,300.0 L606.6,303.3 L611.1,307.1 L615.5,311.1 L620.0,315.4 L624.5,320.0 L628.9,324.9 L633.4,329.9 L637.8,335.0 L642.2,340.2 L646.7,345.5 L651.1,350.9 L655.6,356.2 L660.0,361.4 L664.5,366.5 L669.0,371.5 L673.4,376.3 L677.9,380.9 L682.3,385.2 L686.8,389.2 L691.2,392.9 L695.6,396.3 L700.1,399.3 L704.5,401.8 L709.0,404.0" fill="none" stroke="#2257c9" stroke-width="19" stroke-linecap="butt"/>
<path d="M86.0,295.9 L90.5,298.7 L94.9,302.0 L99.3,305.6 L103.8,309.5 L108.2,313.7 L112.7,318.2 L117.2,322.9 L121.6,327.9 L126.0,333.0 L130.5,338.2 L134.9,343.5 L139.4,348.8 L143.8,354.1 L148.3,359.4 L152.8,364.5 L157.2,369.6 L161.7,374.5 L166.1,379.1 L170.6,383.6 L175.0,387.7 L179.4,391.5 L183.9,395.0 L188.3,398.1 L192.8,400.9 L197.2,403.2 L201.7,405.0 L206.2,406.5 L210.6,407.4 L215.1,407.9 L219.5,408.0 L223.9,407.5 L228.4,406.6 L232.8,405.2 L237.3,403.4 L241.8,401.1 L246.2,398.4 L250.7,395.4 L255.1,391.9 L259.6,388.1 L264.0,384.0 L268.4,379.6 L272.9,374.9 L277.4,370.1 L281.8,365.1 L286.2,359.9 L290.7,354.6 L295.1,349.3 L299.6,344.0 L304.1,338.7 L308.5,333.5 L312.9,328.4 L317.4,323.4 L321.9,318.7 L326.3,314.2 L330.8,309.9 L335.2,305.9 L339.6,302.3 L344.1,299.0 L348.6,296.2 L353.0,293.7 L357.4,291.6 L361.9,290.0 L366.4,288.9 L370.8,288.2 L375.2,288.0 L379.7,288.3 L384.1,289.0 L388.6,290.2 L393.1,291.8 L397.5,293.9 L401.9,296.5 L406.4,299.4 L410.9,302.7 L415.3,306.4 L419.8,310.4 L424.2,314.6 L428.6,319.2 L433.1,324.0 L437.6,328.9 L442.0,334.1 L446.4,339.3 L450.9,344.6 L455.4,349.9 L459.8,355.2 L464.2,360.5 L468.7,365.6 L473.1,370.6 L477.6,375.5 L482.1,380.1 L486.5,384.5 L490.9,388.5 L495.4,392.3 L499.9,395.7 L504.3,398.8 L508.8,401.4 L513.2,403.6 L517.6,405.4 L522.1,406.7 L526.5,407.6 L531.0,408.0 L535.5,407.9 L539.9,407.3 L544.4,406.3 L548.8,404.9 L553.2,402.9 L557.7,400.6 L562.1,397.8 L566.6,394.6 L571.0,391.1 L575.5,387.3 L580.0,383.1 L584.4,378.6 L588.9,373.9 L593.3,369.0 L597.8,364.0 L602.2,358.8 L606.6,353.5 L611.1,348.2 L615.5,342.9 L620.0,337.6 L624.5,332.4 L628.9,327.3 L633.4,322.4 L637.8,317.7 L642.2,313.2 L646.7,309.0 L651.1,305.1 L655.6,301.6 L660.0,298.4 L664.5,295.6 L669.0,293.2 L673.4,291.3 L677.9,289.8 L682.3,288.7 L686.8,288.1 L691.2,288.0 L695.6,288.4 L700.1,289.2 L704.5,290.5 L709.0,292.3" fill="none" stroke="#b8000f" stroke-width="19" stroke-linecap="butt"/>
<path d="M375,282 L375,185 L450,185" fill="none" stroke="#151515" stroke-width="14"/>
<polygon points="445,158 503,185 445,213" fill="#151515"/>
</g>
<circle cx="793.6" cy="300" r="23.3" fill="#d32b9b"/><rect x="776.5" y="296" width="34" height="8" fill="#fff"/>
<circle cx="820.2" cy="441" r="21" fill="#5fd40b"/><rect x="806" y="437.7" width="28.4" height="6.6" fill="#fff"/><rect x="816.9" y="426.8" width="6.6" height="28.4" fill="#fff"/>
<text font-size="29.5" font-weight="bold" stroke="#000" stroke-width="0.55"><tspan x="9.65" y="51.5" textLength="129.23" lengthAdjust="spacingAndGlyphs">Recipient</tspan></text>
<text font-size="29.5" font-weight="bold" stroke="#000" stroke-width="0.55"><tspan x="10.63" y="85.1" textLength="56.98" lengthAdjust="spacingAndGlyphs">CD4</tspan><tspan x="69.06" y="75.2" textLength="9.32" lengthAdjust="spacingAndGlyphs" font-size="17" stroke-width="0.9">+</tspan> <tspan x="85.45" y="85.1" textLength="54.87" lengthAdjust="spacingAndGlyphs">and</tspan> <tspan x="144.83" y="85.1" textLength="57.15" lengthAdjust="spacingAndGlyphs">CD8</tspan><tspan x="201.74" y="75.2" textLength="10.56" lengthAdjust="spacingAndGlyphs" font-size="17" stroke-width="0.9">+</tspan> <tspan x="220.00" y="85.1" textLength="17.73" lengthAdjust="spacingAndGlyphs">T</tspan> <tspan x="245.51" y="85.1" textLength="64.91" lengthAdjust="spacingAndGlyphs">cells</tspan></text>
<text font-size="29.5" font-weight="bold" stroke="#000" stroke-width="0.55"><tspan x="416.60" y="198" textLength="82.71" lengthAdjust="spacingAndGlyphs">Donor</tspan> <tspan x="506.29" y="198" textLength="42.82" lengthAdjust="spacingAndGlyphs">NK</tspan> <tspan x="556.22" y="198" textLength="48.36" lengthAdjust="spacingAndGlyphs">cell</tspan></text>
<text font-size="26.6" font-weight="normal" stroke="#000" stroke-width="0.3"><tspan x="629.03" y="131.2" textLength="103.51" lengthAdjust="spacingAndGlyphs">Prevents</tspan> <tspan x="740.47" y="131.2" textLength="115.53" lengthAdjust="spacingAndGlyphs">activating</tspan> <tspan x="863.14" y="131.2" textLength="101.99" lengthAdjust="spacingAndGlyphs">missing-</tspan></text>
<text font-size="26.6" font-weight="normal" stroke="#000" stroke-width="0.3"><tspan x="691.94" y="161.3" textLength="43.81" lengthAdjust="spacingAndGlyphs">self</tspan> <tspan x="742.34" y="161.3" textLength="34.45" lengthAdjust="spacingAndGlyphs">NK</tspan> <tspan x="782.64" y="161.3" textLength="112.92" lengthAdjust="spacingAndGlyphs">response</tspan></text>
<text font-size="26.6" font-weight="normal" stroke="#000" stroke-width="0.3"><tspan x="158.07" y="482.2" textLength="85.40" lengthAdjust="spacingAndGlyphs">Evades</tspan> <tspan x="249.17" y="482.2" textLength="16.79" lengthAdjust="spacingAndGlyphs">T</tspan> <tspan x="272.66" y="482.2" textLength="41.42" lengthAdjust="spacingAndGlyphs">cell</tspan></text>
<text font-size="26.6" font-weight="normal" stroke="#000" stroke-width="0.3"><tspan x="120.49" y="512" textLength="120.37" lengthAdjust="spacingAndGlyphs">allogeneic</tspan> <tspan x="248.14" y="512" textLength="103.64" lengthAdjust="spacingAndGlyphs">rejection</tspan></text>
<text font-size="26.6" font-weight="normal" stroke="#000" stroke-width="0.3"><tspan x="403.86" y="305.4" textLength="61.64" lengthAdjust="spacingAndGlyphs">MHC</tspan><tspan x="463.94" y="305.4" textLength="7.59" lengthAdjust="spacingAndGlyphs">-</tspan><tspan x="471.21" y="305.4" textLength="33.82" lengthAdjust="spacingAndGlyphs">I/II</tspan></text>
<text font-size="26.6" font-weight="normal" stroke="#000" stroke-width="0.3"><tspan x="436.69" y="335.9" textLength="34.81" lengthAdjust="spacingAndGlyphs">KO</tspan></text>
<text font-size="19.2" font-weight="normal" stroke="#000" stroke-width="0.3"><tspan x="501.52" y="351.6" textLength="103.36" lengthAdjust="spacingAndGlyphs">HLA-E/G OE</tspan></text>
<text font-size="19.2" font-weight="normal" stroke="#000" stroke-width="0.3"><tspan x="328.75" y="212.2" textLength="59.36" lengthAdjust="spacingAndGlyphs">MHC-II</tspan></text>
<text font-size="19.2" font-weight="normal" stroke="#000" stroke-width="0.3"><tspan x="366.90" y="354.5" textLength="35.70" lengthAdjust="spacingAndGlyphs">TCR</tspan></text>
<text font-size="19.2" font-weight="normal" stroke="#000" stroke-width="0.3"><tspan x="346.76" y="454.5" textLength="53.82" lengthAdjust="spacingAndGlyphs">MHC-I</tspan></text>
<text font-size="22.8" font-weight="normal" stroke="#000" stroke-width="0.3"><tspan x="643.99" y="262.2" textLength="73.79" lengthAdjust="spacingAndGlyphs">NKG2A</tspan></text>
<text font-size="22.8" font-weight="normal" stroke="#000" stroke-width="0.3"><tspan x="606.36" y="336.7" textLength="88.42" lengthAdjust="spacingAndGlyphs">HLA-E/G</tspan></text>
<text font-size="19.2" font-weight="normal" stroke="#000" stroke-width="0.3"><tspan x="680.45" y="447.6" textLength="34.33" lengthAdjust="spacingAndGlyphs">iKIR</tspan></text>
<text font-size="19.2" font-weight="normal" stroke="#000" stroke-width="0.3"><tspan x="622.65" y="527.7" textLength="54.14" lengthAdjust="spacingAndGlyphs">MHC-I</tspan></text>
<text font-size="22.8" font-weight="normal" stroke="#000" stroke-width="0.3"><tspan x="705.83" y="529.5" textLength="124.32" lengthAdjust="spacingAndGlyphs">missing-self</tspan></text>
<text font-size="29.5" font-weight="bold" stroke="#000" stroke-width="0.55"><tspan x="716.96" y="570.4" textLength="128.83" lengthAdjust="spacingAndGlyphs">Recipient</tspan> <tspan x="854.75" y="570.4" textLength="41.65" lengthAdjust="spacingAndGlyphs">NK</tspan> <tspan x="902.82" y="570.4" textLength="64.29" lengthAdjust="spacingAndGlyphs">cells</tspan></text>
</svg>
</body></html>
